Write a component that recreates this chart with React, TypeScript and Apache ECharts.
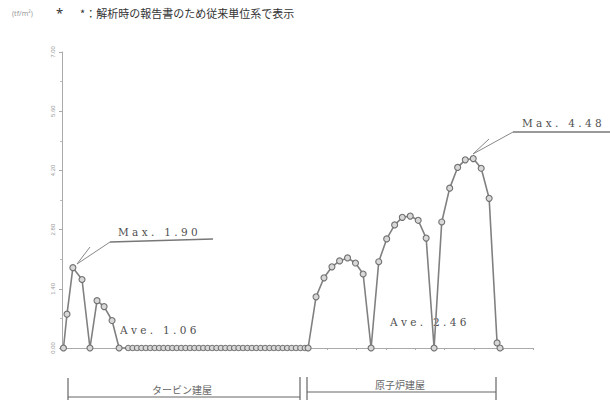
import React, { useEffect, useRef } from "react";
import * as echarts from "echarts";

// Turbine building section (x in axis units, y in tf/m²)
const turbineX = [0.5, 1.7, 3.7, 6.8, 9.5, 11.9, 14.3, 17.0, 19.4];
const turbineY = [0, 0.8, 1.9, 1.62, 0, 1.12, 0.98, 0.65, 0];

// Corridor section: all zero
const corridorX = [
  22.5, 24, 25.5, 27, 28.5, 30, 31.5, 33, 34.5, 36, 37.5, 39, 40.5, 42, 43.5,
  45, 46.5, 48, 49.5, 51, 52.5, 54, 55.5, 57, 58.5, 60, 61.5, 63, 64.5, 66,
  67.5, 69, 70.5, 72, 73.5, 75, 76.5, 78, 79.5, 81, 82.5,
];
const corridorY = corridorX.map(() => 0);

// Reactor building section
const reactorX = [
  83.6, 86.3, 89.0, 91.7, 94.3, 97.0, 99.7, 102.3, 105.0, 107.6, 110.3, 113.0,
  115.6, 118.3, 121.0, 123.7, 126.4, 129.0, 131.7, 134.4, 137.0, 139.7, 142.4,
  145.1, 147.8, 148.8,
];
const reactorY = [
  0, 1.21, 1.66, 1.92, 2.06, 2.13, 2.01, 1.75, 0, 2.04, 2.58, 2.91, 3.09, 3.12,
  3.02, 2.6, 0, 2.98, 3.78, 4.27, 4.45, 4.48, 4.25, 3.54, 0.12, 0,
];

const yMax = 7;
const yInterval = 1.4;
const xMax = 160;
const xInterval = 10;

const annotations = [
  { text: "M a x .   1 . 9 0", x: 118, y: 232 },
  { text: "A v e .   1 . 0 6", x: 120, y: 330 },
  { text: "A v e .   2 . 4 6", x: 390, y: 322 },
  { text: "M a x .   4 . 4 8", x: 522, y: 123 },
];

export default function App() {
  const ref = useRef<HTMLDivElement>(null);
  useEffect(() => {
    if (!ref.current) return;
    const chart = echarts.init(ref.current, null, { renderer: "svg" });
    const data: number[][] = [];
    turbineX.forEach((x, i) => data.push([x, turbineY[i]]));
    corridorX.forEach((x, i) => data.push([x, corridorY[i]]));
    reactorX.forEach((x, i) => data.push([x, reactorY[i]]));
    const lineColor = "#808080";
    const serif = "'DejaVu Serif', 'Liberation Serif', serif";
    const graphic: any[] = [
      {
        type: "text",
        left: 12,
        top: 10,
        style: { text: "(tf/m²)", fontSize: 7, fill: "#999", fontFamily: "Noto Sans" },
      },
      {
        type: "text",
        left: 56,
        top: 6,
        style: { text: "*", fontSize: 13, fill: "#333", fontFamily: "Noto Sans" },
      },
      {
        type: "text",
        left: 80,
        top: 7,
        style: {
          text: "*：解析時の報告書のため従来単位系で表示",
          fontSize: 11,
          fill: "#333",
          fontFamily: "'Noto Sans CJK JP'",
        },
      },
      // Max 1.90 leader
      { type: "line", shape: { x1: 110, y1: 242, x2: 213, y2: 239 }, style: { stroke: "#777", lineWidth: 1.5 } },
      { type: "line", shape: { x1: 110, y1: 242, x2: 77, y2: 264 }, style: { stroke: "#888", lineWidth: 1 } },
      { type: "line", shape: { x1: 90, y1: 247, x2: 77, y2: 264 }, style: { stroke: "#888", lineWidth: 1 } },
      // Max 4.48 leader
      { type: "line", shape: { x1: 513, y1: 132, x2: 610, y2: 132 }, style: { stroke: "#777", lineWidth: 1.5 } },
      { type: "line", shape: { x1: 513, y1: 132, x2: 473, y2: 154 }, style: { stroke: "#888", lineWidth: 1 } },
      { type: "line", shape: { x1: 489, y1: 139, x2: 473, y2: 154 }, style: { stroke: "#888", lineWidth: 1 } },
      // Bottom brackets
      { type: "line", shape: { x1: 68, y1: 378, x2: 68, y2: 400 }, style: { stroke: "#666", lineWidth: 1.2 } },
      { type: "line", shape: { x1: 68, y1: 397, x2: 300, y2: 397 }, style: { stroke: "#666", lineWidth: 1.2 } },
      { type: "line", shape: { x1: 300, y1: 377, x2: 300, y2: 400 }, style: { stroke: "#666", lineWidth: 1.2 } },
      { type: "line", shape: { x1: 307, y1: 377, x2: 307, y2: 400 }, style: { stroke: "#666", lineWidth: 1.2 } },
      { type: "line", shape: { x1: 307, y1: 392, x2: 496, y2: 392 }, style: { stroke: "#666", lineWidth: 1.2 } },
      { type: "line", shape: { x1: 496, y1: 377, x2: 496, y2: 400 }, style: { stroke: "#666", lineWidth: 1.2 } },
      {
        type: "text",
        x: 182,
        y: 389,
        style: {
          text: "タービン建屋",
          fontSize: 10,
          fill: "#666",
          align: "center",
          verticalAlign: "middle",
          fontFamily: "'Noto Sans CJK JP'",
        },
      },
      {
        type: "text",
        x: 400,
        y: 384,
        style: {
          text: "原子炉建屋",
          fontSize: 10,
          fill: "#666",
          align: "center",
          verticalAlign: "middle",
          fontFamily: "'Noto Sans CJK JP'",
        },
      },
      ...annotations.map((a) => ({
        type: "text",
        x: a.x,
        y: a.y,
        style: {
          text: a.text,
          fontSize: 10.5,
          fill: "#505050",
          verticalAlign: "middle",
          fontFamily: serif,
        },
      })),
    ];
    chart.setOption({
      animation: false,
      backgroundColor: "#ffffff",
      grid: { left: 62, right: 77, top: 52, bottom: 52 },
      xAxis: {
        type: "value",
        min: 0,
        max: xMax,
        interval: xInterval,
        axisLine: { show: true, lineStyle: { color: "#aaa", width: 1 } },
        axisTick: { show: true, length: 2, lineStyle: { color: "#aaa" } },
        axisLabel: { show: false },
        splitLine: { show: false },
      },
      yAxis: {
        type: "value",
        min: 0,
        max: yMax,
        interval: yInterval,
        axisLine: { show: true, lineStyle: { color: "#aaa", width: 1 } },
        axisTick: { show: true, length: 3, lineStyle: { color: "#aaa" } },
        minorTick: { show: true, splitNumber: 2, length: 2, lineStyle: { color: "#bbb" } },
        axisLabel: {
          rotate: 90,
          fontSize: 6,
          color: "#999",
          margin: 6,
          formatter: (v: number) => v.toFixed(2),
        },
        splitLine: { show: false },
      },
      series: [
        {
          type: "line",
          data,
          symbol: "circle",
          symbolSize: (v: number[]) => (v[0] > 21 && v[0] < 83 ? 5.5 : 6),
          itemStyle: { color: "#d8d8d8", borderColor: "#707070", borderWidth: 1.1 },
          lineStyle: { color: lineColor, width: 1.6 },
        },
      ],
      graphic,
    });
    return () => chart.dispose();
  }, []);
  return (
    <div
      ref={ref}
      style={{ position: "fixed", left: 0, top: 0, width: 610, height: 400, background: "#fff" }}
    />
  );
}
